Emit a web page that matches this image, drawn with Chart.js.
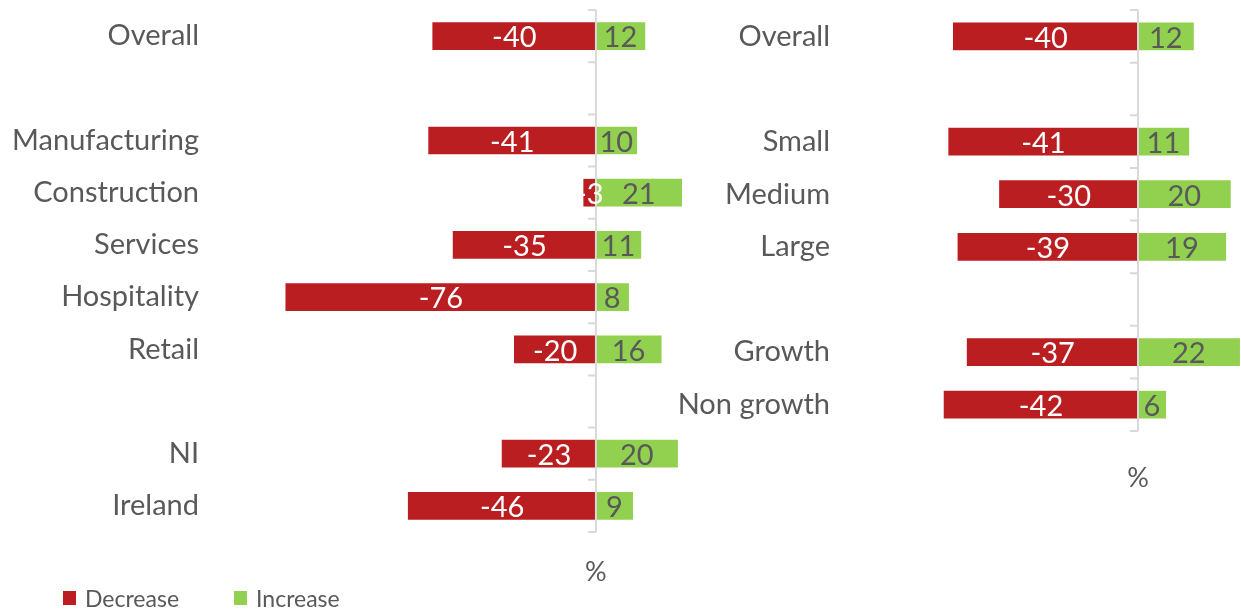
<!DOCTYPE html>
<html>
<head>
<meta charset="utf-8">
<script src="https://cdn.jsdelivr.net/npm/chart.js@4.4.1/dist/chart.umd.min.js"></script>
<style>
  body { margin: 0; background: #fff; width: 1241px; height: 611px; overflow: hidden; position: relative; font-family: Lato, sans-serif; }
  .panel { position: absolute; top: 0; height: 611px; }
  #leftWrap { left: 0; width: 720px; }
  #rightWrap { left: 650px; width: 591px; }
  .legend { position: absolute; top: 584px; left: 63px; font-size: 23px; color: #595959; display: flex; }
  .legend span.item { display: flex; align-items: center; margin-right: 55px; }
  .legend i { display: inline-block; width: 13px; height: 14px; margin-right: 9px; }
</style>
</head>
<body>
<div id="leftWrap" class="panel"><canvas id="leftChart"></canvas></div>
<div id="rightWrap" class="panel"><canvas id="rightChart"></canvas></div>
<div class="legend">
  <span class="item"><i style="background:#BA1E20"></i>Decrease</span>
  <span class="item"><i style="background:#92D050"></i>Increase</span>
</div>
<script>
const sectorLabels = ['Overall', '', 'Manufacturing', 'Construction', 'Services', 'Hospitality', 'Retail', '', 'NI', 'Ireland'];
const sectorDecrease = [-40, null, -41, -3, -35, -76, -20, null, -23, -46];
const sectorIncrease = [12, null, 10, 21, 11, 8, 16, null, 20, 9];

const sizeLabels = ['Overall', '', 'Small', 'Medium', 'Large', '', 'Growth', 'Non growth'];
const sizeDecrease = [-40, null, -41, -30, -39, null, -37, -42];
const sizeIncrease = [12, null, 11, 20, 19, null, 22, 6];

const RED = '#BA1E20';
const GREEN = '#92D050';
const GREY_TEXT = '#595959';
const AXIS = '#D9D9D9';
const FONT = 'Lato, sans-serif';

// draws zero line, small ticks between categories, bar labels and the % title
const decorPlugin = {
  id: 'decor',
  afterDatasetsDraw(chart, args, opts) {
    const ctx = chart.ctx;
    const x = chart.scales.x;
    const y = chart.scales.y;
    const x0 = x.getPixelForValue(0);
    const n = chart.data.labels.length;
    const top = y.getPixelForValue(-0.5);
    const bottom = y.getPixelForValue(n - 0.5);
    ctx.save();
    ctx.strokeStyle = AXIS;
    ctx.lineWidth = 2;
    ctx.beginPath();
    ctx.moveTo(x0, top);
    ctx.lineTo(x0, bottom);
    for (let i = 0; i <= n; i++) {
      const ty = y.getPixelForValue(i - 0.5);
      ctx.moveTo(x0 - 8, ty);
      ctx.lineTo(x0, ty);
    }
    ctx.stroke();

    ctx.font = '29px ' + FONT;
    ctx.textAlign = 'center';
    ctx.textBaseline = 'middle';
    chart.data.datasets.forEach((ds, di) => {
      const meta = chart.getDatasetMeta(di);
      meta.data.forEach((el, i) => {
        const v = ds.data[i];
        if (v === null || v === undefined) return;
        const p = el.getProps(['x', 'y', 'base'], true);
        ctx.fillStyle = di === 0 ? '#ffffff' : GREY_TEXT;
        ctx.fillText(String(v), (p.x + p.base) / 2, p.y + 2);
      });
    });

    ctx.fillStyle = GREY_TEXT;
    ctx.font = '27px ' + FONT;
    ctx.fillText('%', x0, bottom + opts.titleGap);
    ctx.restore();
  }
};

function makeChart(id, labels, dec, inc, xMin, xMax, axisWidth, padBottom, titleGap) {
  return new Chart(document.getElementById(id).getContext('2d'), {
    type: 'bar',
    data: {
      labels: labels,
      datasets: [
        { label: 'Decrease', data: dec, backgroundColor: RED, barThickness: 27 },
        { label: 'Increase', data: inc, backgroundColor: GREEN, barThickness: 27 }
      ]
    },
    options: {
      indexAxis: 'y',
      animation: false,
      responsive: true,
      maintainAspectRatio: false,
      layout: { padding: { top: 10, bottom: padBottom, right: 0, left: 0 } },
      plugins: {
        legend: { display: false },
        tooltip: { enabled: false },
        decor: { titleGap: titleGap }
      },
      scales: {
        x: {
          stacked: true,
          min: xMin,
          max: xMax,
          display: false,
          grid: { display: false }
        },
        y: {
          stacked: true,
          grid: { display: false, drawTicks: false },
          border: { display: false },
          ticks: { color: GREY_TEXT, font: { family: FONT, size: 29 }, padding: 6, autoSkip: false },
          afterFit: (scale) => {
            scale.width = axisWidth;
            scale.paddingTop = 0;
            scale.paddingBottom = 0;
          }
        }
      }
    },
    plugins: [decorPlugin]
  });
}

makeChart('leftChart', sectorLabels, sectorDecrease, sectorIncrease, -95.8, 30.4, 205, 79, 40);
makeChart('rightChart', sizeLabels, sizeDecrease, sizeIncrease, -65.4, 22.3, 186, 180, 47);
</script>
</body>
</html>
